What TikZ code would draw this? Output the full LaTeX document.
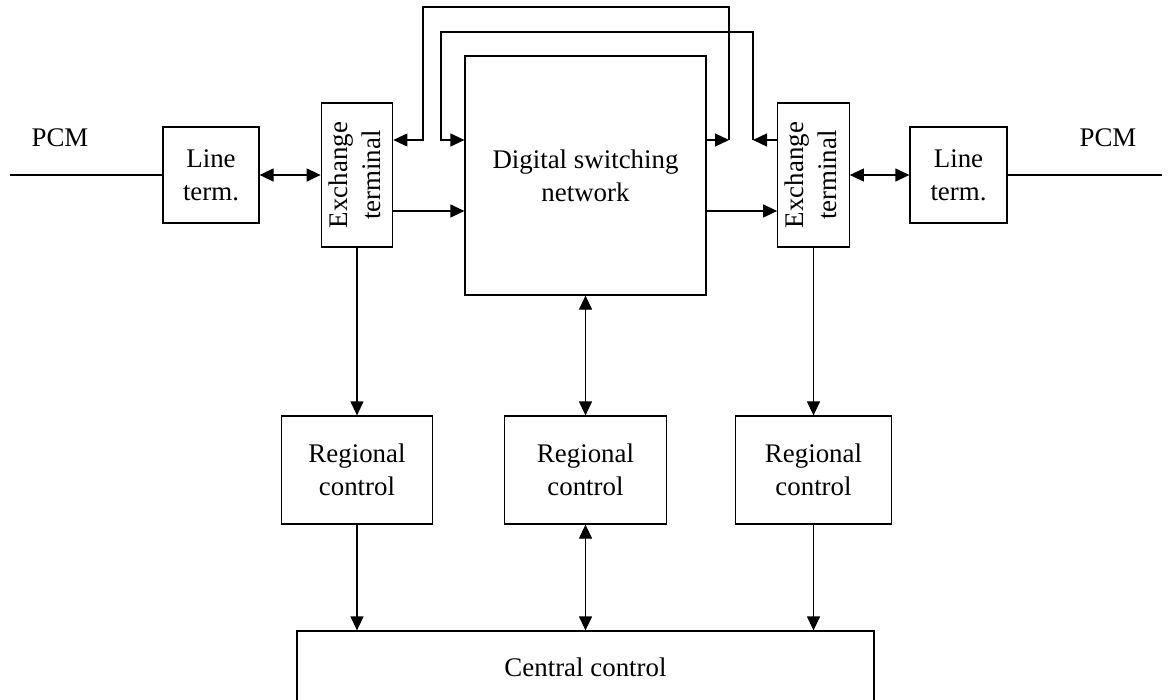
\documentclass[tikz,border=0pt]{standalone}
\usepackage{fontspec}
\setmainfont{Liberation Serif}
\usepackage{graphicx}
\usetikzlibrary{arrows.meta,positioning,calc}
\newcommand{\RowY}{-3.5}
\newcommand{\CtrlY}{-9.4}
\newcommand{\UpY}{-2.8}
\newcommand{\DownY}{-4.22}
\newcommand{\LeftX}{7.14}
\newcommand{\MidX}{11.71}
\newcommand{\RightX}{16.27}

\begin{document}
\begin{tikzpicture}[
    font=\fontsize{15.3}{18.9}\selectfont,
    box/.style={draw, line width=0.7pt, inner sep=0pt, align=center},
    wire/.style={line width=0.7pt},
    edge/.style={-{Triangle[length=2.8mm,width=2.6mm]}, line width=0.7pt},
    both/.style={{Triangle[length=2.8mm,width=2.6mm]}-{Triangle[length=2.8mm,width=2.6mm]}, line width=0.7pt},
    exchbox/.style={box, minimum width=1.43cm, minimum height=2.88cm},
    ctrlbox/.style={box, minimum height=2.16cm},
  ]
\useasboundingbox (0,0) rectangle (23.4,-14);

% --- Line side: PCM in, line terminals, exchange terminals -------------------
\node (pcmL) at (1.2,-2.76) {PCM};
\node (pcmR) at (22.16,-2.76) {PCM};
\coordinate (endL) at (0.2,\RowY);
\coordinate (endR) at (23.24,\RowY);
\node[box, minimum width=1.92cm, minimum height=1.92cm] (lineL) at (4.22,\RowY) {Line\\term.};
\node[box, minimum width=1.94cm, minimum height=1.92cm] (lineR) at (19.17,\RowY) {Line\\term.};
\node[exchbox] (exL) at (\LeftX,\RowY) {\rotatebox{90}{\begin{tabular}{@{}c@{}}Exchange\\terminal\end{tabular}}};
\node[exchbox] (exR) at (\RightX,\RowY) {\rotatebox{90}{\begin{tabular}{@{}c@{}}Exchange\\terminal\end{tabular}}};

% --- Switching network -------------------------------------------------------
\node[box, minimum width=4.82cm, minimum height=4.78cm] (dsn) at (\MidX,-3.51) {Digital switching\\network};

% --- Controls ----------------------------------------------------------------
\node[ctrlbox, minimum width=3.02cm] (regL) at (\LeftX,\CtrlY) {Regional\\control};
\node[ctrlbox, minimum width=3.24cm] (regM) at (\MidX,\CtrlY) {Regional\\control};
\node[ctrlbox, minimum width=3.12cm] (regR) at (\RightX,\CtrlY) {Regional\\control};
\node[box, minimum width=11.54cm, minimum height=1.46cm] (central) at (\MidX,-13.35) {Central control};

% --- Wires along the line side -------------------------------------------------
\draw[wire] (endL) -- (lineL);
\draw[wire] (lineR) -- (endR);
\draw[both] (lineL.east) -- (exL.west);
\draw[both] (exR.east) -- (lineR.west);

% --- Network paths -------------------------------------------------------------
\coordinate (lowY) at (0,\DownY);
\draw[edge] (exL.east |- lowY) -- (dsn.west |- lowY);
\draw[edge] (dsn.east |- lowY) -- (exR.west |- lowY);

% outer loop: network back to the left exchange terminal
\coordinate (outR) at (14.58,\UpY);
\coordinate (outTL) at (8.46,-0.14);
\coordinate (outL) at (8.46,\UpY);
\draw[edge] (dsn.east |- outR) -- (outR);
\draw[edge] (outR) |- (outTL) -- (outL) -- (exL.east |- outL);

% inner loop: right exchange terminal into the network
\coordinate (midR) at (15.06,\UpY);
\coordinate (midTL) at (8.82,-0.64);
\coordinate (midL) at (8.82,\UpY);
\draw[edge] (exR.west |- midR) -- (midR);
\draw[edge] (midR) |- (midTL) -- (midL) -- (dsn.west |- midL);

% --- Control paths ---------------------------------------------------------------
\draw[edge] (exL.south) -- (regL.north);
\draw[both] (dsn.south) -- (regM.north);
\draw[edge] (exR.south) -- (regR.north);
\draw[edge] (regL.south) -- (regL.south |- central.north);
\draw[both] (regM.south) -- (regM.south |- central.north);
\draw[edge] (regR.south) -- (regR.south |- central.north);

\end{tikzpicture}
\end{document}
